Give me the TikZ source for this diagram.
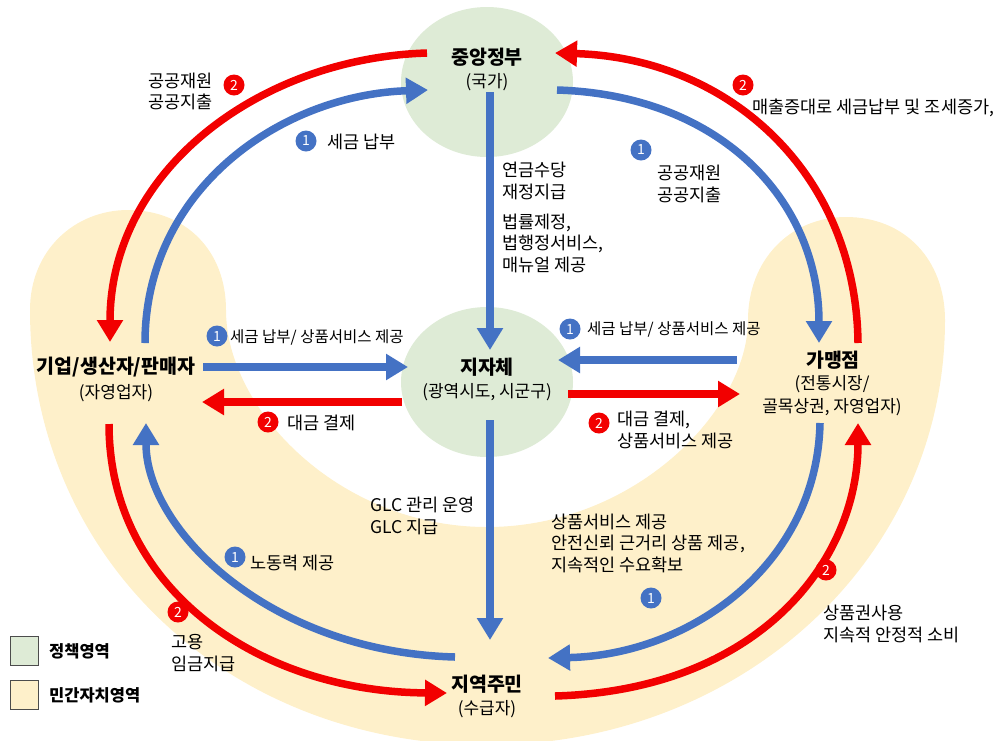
\documentclass[tikz,border=0pt]{standalone}
\usepackage{fontspec}
\setmainfont{Noto Sans CJK KR}
\usetikzlibrary{arrows.meta}
\definecolor{rd}{HTML}{F20000}
\definecolor{bl}{HTML}{4472C4}
\definecolor{grf}{HTML}{DEEBD6}
\definecolor{bgf}{HTML}{FEF0CA}
\tikzset{
 flowline/.style={line width=7.5pt, -{Triangle[width=25pt,length=22pt]}},
 redflow/.style={flowline, draw=rd},
 blueflow/.style={flowline, draw=bl},
 lbl/.style={font=\fontsize{17.5}{21.5}\selectfont, align=left, inner sep=0pt, anchor=west},
 tightlbl/.style={lbl, font=\fontsize{15.5}{21.5}\selectfont},
 ttl/.style={font=\fontsize{19.5}{22}\selectfont\bfseries, inner sep=0pt},
 subt/.style={font=\fontsize{17}{23}\selectfont, inner sep=0pt, align=center},
 badge/.style={circle, inner sep=0pt, minimum size=21pt, text=white, font=\fontsize{14}{14}\selectfont},
 bbadge/.style={badge, fill=bl},
 rbadge/.style={badge, fill=rd},
 legbox/.style={draw=black!70, line width=0.8pt, minimum width=28pt, minimum height=29pt, inner sep=0pt},
 legtxt/.style={font=\fontsize{16.5}{18}\selectfont\bfseries, inner sep=0pt, anchor=west},
}
\begin{document}
\begin{tikzpicture}[x=1pt,y=-1pt]
\useasboundingbox (0,0) rectangle (1008,740);
% private area band
\fill[bgf] (30,310) .. controls (30,250) and (75,210) .. (128,210)
  .. controls (185,210) and (226,250) .. (226,310)
  .. controls (226,410) and (340,527) .. (487,527)
  .. controls (635,527) and (748,410) .. (748,320)
  .. controls (748,260) and (790,217) .. (846,217)
  .. controls (905,217) and (945,260) .. (945,320)
  .. controls (945,560) and (740,745) .. (487,745)
  .. controls (230,745) and (30,560) .. (30,310) -- cycle;
% policy areas
\fill[grf] (487,82) ellipse [x radius=86pt, y radius=75pt];
\fill[grf] (487,382) ellipse [x radius=86pt, y radius=75pt];

% entities
\node[ttl] (gov) at (487,57) {중앙정부};
\node[subt] (govs) at (487,82) {(국가)};
\node[ttl] (loc) at (487,367) {지자체};
\node[subt] (locs) at (487,392) {(광역시도, 시군구)};
\node[ttl] (biz) at (116,367) {기업/생산자/판매자};
\node[subt] (bizs) at (116,393) {(자영업자)};
\node[ttl] (shop) at (833,360) {가맹점};
\node[subt] (shops) at (832,396) {(전통시장/\\골목상권, 자영업자)};
\node[ttl] (res) at (487,684) {지역주민};
\node[subt] (ress) at (487,709) {(수급자)};

% connector end points
\coordinate (govL1) at (427,53);
\coordinate (govL2) at (428,90);
\coordinate (govR1) at (555,53);
\coordinate (govR2) at (557,90);
\coordinate (govB) at (490,92);
\coordinate (locT) at (490,350);
\coordinate (locB) at (490,420);
\coordinate (locL1) at (408,367);
\coordinate (locL2) at (402,402);
\coordinate (locR1) at (558,360);
\coordinate (locR2) at (568,394);
\coordinate (bizT1) at (110,342);
\coordinate (bizT2) at (145,343);
\coordinate (bizR1) at (203,367);
\coordinate (bizR2) at (202,402);
\coordinate (bizB1) at (109,424);
\coordinate (bizB2) at (146,423);
\coordinate (shopT1) at (819,343);
\coordinate (shopT2) at (858,343);
\coordinate (shopL1) at (737,360);
\coordinate (shopL2) at (740,394);
\coordinate (shopB1) at (820,423);
\coordinate (shopB2) at (858,423);
\coordinate (resT) at (490,640);
\coordinate (resL1) at (455,657);
\coordinate (resL2) at (447,693);
\coordinate (resR1) at (548,658);
\coordinate (resR2) at (555,696);

% top arcs
\draw[redflow] (govL1) .. controls (260,58) and (110,170) .. (bizT1);
\draw[blueflow] (bizT2) .. controls (145,190) and (280,95) .. (govL2);
\draw[redflow] (shopT2) .. controls (856,172) and (728,58) .. (govR1);
\draw[blueflow] (govR2) .. controls (720,95) and (819,200) .. (shopT1);
% vertical
\draw[blueflow] (govB) -- (locT);
\draw[blueflow] (locB) -- (resT);
% horizontal
\draw[blueflow] (bizR1) -- (locL1);
\draw[redflow] (locL2) -- (bizR2);
\draw[blueflow] (shopL1) -- (locR1);
\draw[redflow] (locR2) -- (shopL2);
% bottom arcs
\draw[blueflow] (resL1) .. controls (270,652) and (146,530) .. (bizB2);
\draw[redflow] (bizB1) .. controls (109,590) and (260,692) .. (resL2);
\draw[blueflow] (shopB1) .. controls (817,565) and (690,655) .. (resR1);
\draw[redflow] (resR2) .. controls (760,690) and (858,560) .. (shopB2);

% labels
\node[rbadge] at (234,85) {2};
\node[lbl] at (148,91.5) {공공재원\\공공지출};
\node[bbadge] at (306,141) {1};
\node[lbl] at (327,142) {세금 납부};
\node[rbadge] at (743,85) {2};
\node[lbl] at (752,108) {매출증대로 세금납부 및 조세증가,};
\node[bbadge] at (641,150) {1};
\node[lbl] at (657,184) {공공재원\\공공지출};
\node[lbl] at (502,181) {연금수당\\재정지급};
\node[lbl] at (502,243) {법률제정,\\법행정서비스,\\매뉴얼 제공};
\node[bbadge] at (217,336) {1};
\node[tightlbl] at (230,337) {세금 납부/ 상품서비스 제공};
\node[rbadge] at (268,422) {2};
\node[lbl] at (287,423) {대금 결제};
\node[bbadge] at (570,329) {1};
\node[tightlbl] at (587,329) {세금 납부/ 상품서비스 제공};
\node[rbadge] at (599,423) {2};
\node[lbl] at (617,430) {대금 결제,\\상품서비스 제공};
\node[lbl] at (370,516) {GLC 관리 운영\\GLC 지급};
\node[bbadge] at (235,557) {1};
\node[lbl] at (250,563) {노동력 제공};
\node[rbadge] at (178,612) {2};
\node[lbl] at (171,653) {고용\\임금지급};
\node[lbl] at (551,543) {상품서비스 제공\\안전신뢰 근거리 상품 제공,\\지속적인 수요확보};
\node[bbadge] at (651,598) {1};
\node[rbadge] at (826,570) {2};
\node[lbl] at (823,624) {상품권사용\\지속적 안정적 소비};

% legend
\node[legbox, fill=grf] (leg1) at (24,650.5) {};
\node[legtxt] at (49,651) {정책영역};
\node[legbox, fill=bgf] (leg2) at (24,695) {};
\node[legtxt] at (49,695) {민간자치영역};
\end{tikzpicture}
\end{document}
